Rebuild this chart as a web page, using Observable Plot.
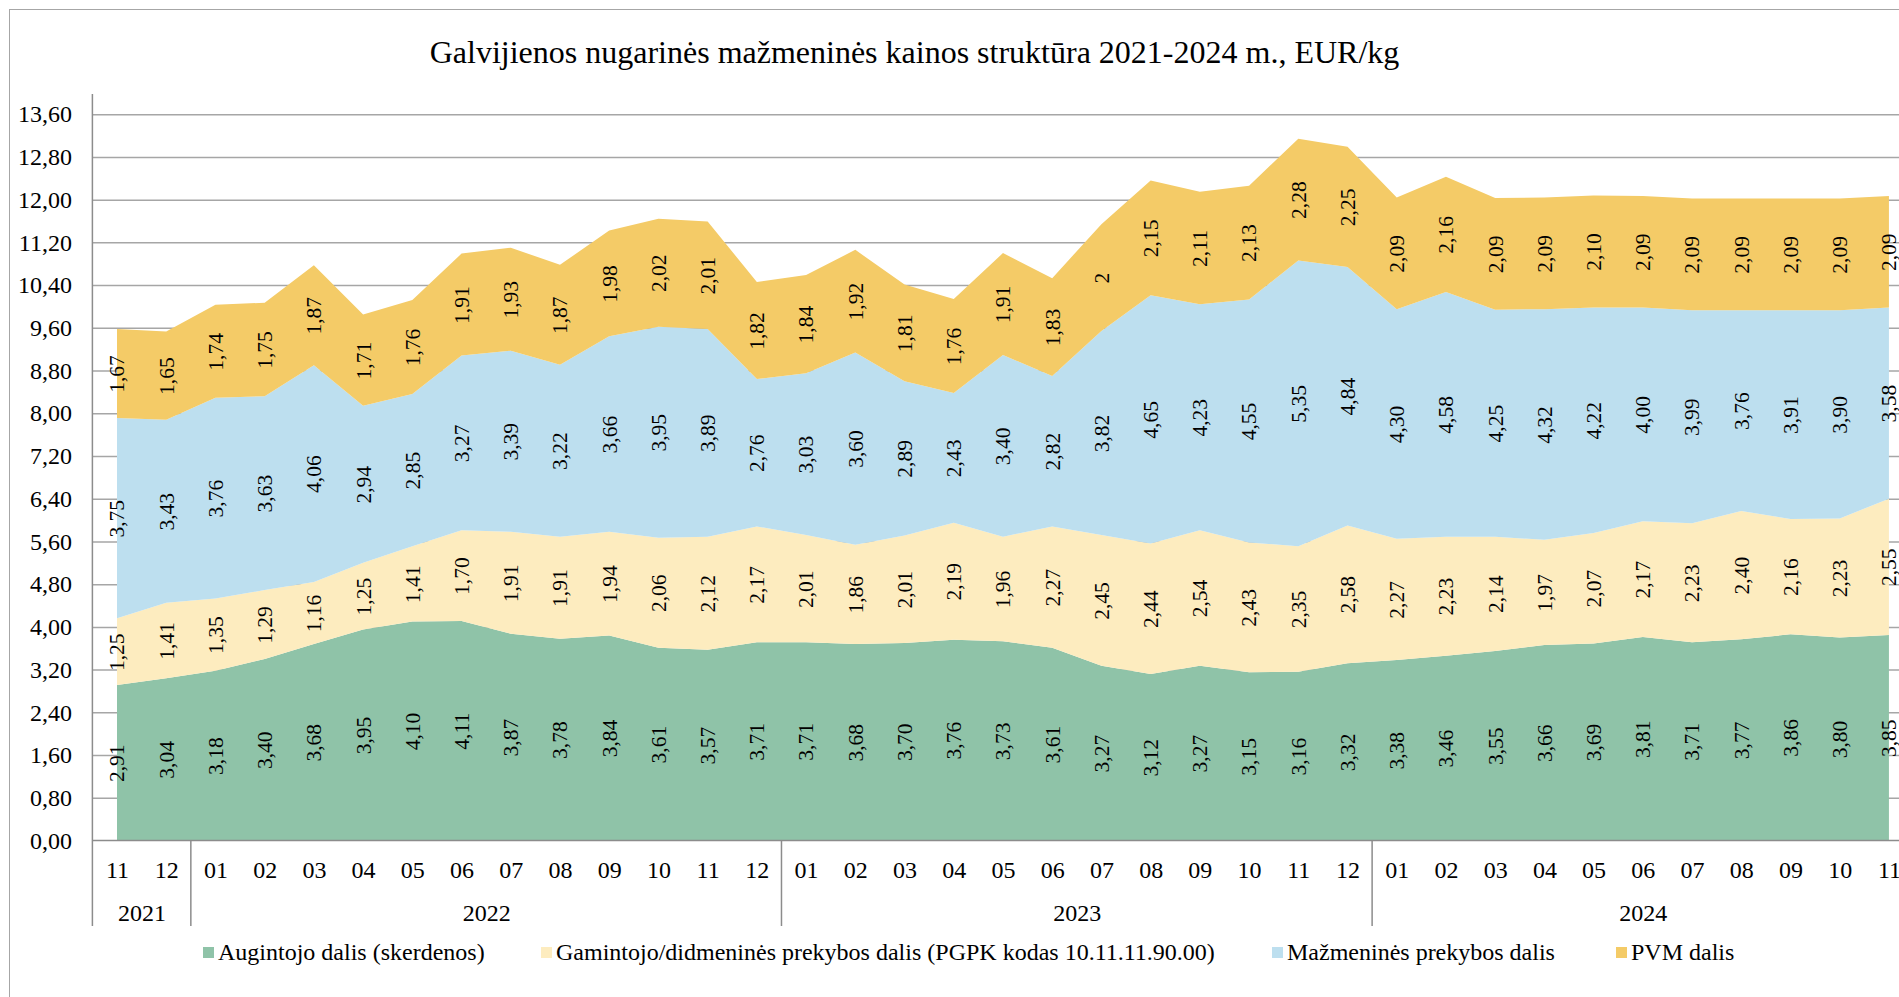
<!DOCTYPE html>
<html>
<head>
<meta charset="utf-8">
<script src="https://cdn.jsdelivr.net/npm/d3@7"></script>
<script src="https://cdn.jsdelivr.net/npm/@observablehq/plot@0.6"></script>
<style>
html, body { margin: 0; padding: 0; background: #fff; overflow: hidden; }
#wrap { position: relative; width: 1899px; height: 997px; overflow: hidden; background: #fff;
        font-family: "Liberation Serif", "Times New Roman", serif; color: #000; }
#frame { position: absolute; left: 9px; top: 8.5px; width: 2100px; height: 1200px;
         border: 1.5px solid #a6a6a6; box-sizing: border-box; }
#title { position: absolute; left: 0; top: 36px; width: 1829px; text-align: center;
         font-size: 32px; line-height: 32px; white-space: nowrap; }
#chart { position: absolute; left: 0; top: 88px; }
#legend { position: absolute; left: 0; top: 930px; width: 1899px; height: 67px; }
.item { position: absolute; top: 10px; height: 24px; display: flex; align-items: center;
        font-size: 24px; line-height: 24px; white-space: nowrap; }
.sw { width: 11px; height: 11px; margin-right: 4px; flex: none; }
</style>
</head>
<body>
<div id="wrap">
  <div id="frame"></div>
  <div id="title"></div>
  <div id="chart"></div>
  <div id="legend"></div>
</div>
<script>
// ---------- DATA ----------
const titleText = "Galvijienos nugarinės mažmeninės kainos struktūra 2021-2024 m., EUR/kg";

const periods = [
  "2021-11","2021-12",
  "2022-01","2022-02","2022-03","2022-04","2022-05","2022-06","2022-07","2022-08","2022-09","2022-10","2022-11","2022-12",
  "2023-01","2023-02","2023-03","2023-04","2023-05","2023-06","2023-07","2023-08","2023-09","2023-10","2023-11","2023-12",
  "2024-01","2024-02","2024-03","2024-04","2024-05","2024-06","2024-07","2024-08","2024-09","2024-10","2024-11"
];

const seriesNames = [
  "Augintojo dalis (skerdenos)",
  "Gamintojo/didmeninės prekybos dalis (PGPK kodas 10.11.11.90.00)",
  "Mažmeninės prekybos dalis",
  "PVM dalis"
];

const seriesColors = ["#8fc3a8", "#fdecbf", "#bddfef", "#f4cb67"];

const augintojo = [2.91,3.04, 3.18,3.40,3.68,3.95,4.10,4.11,3.87,3.78,3.84,3.61,3.57,3.71,
  3.71,3.68,3.70,3.76,3.73,3.61,3.27,3.12,3.27,3.15,3.16,3.32,
  3.38,3.46,3.55,3.66,3.69,3.81,3.71,3.77,3.86,3.80,3.85];

const gamintojo = [1.25,1.41, 1.35,1.29,1.16,1.25,1.41,1.70,1.91,1.91,1.94,2.06,2.12,2.17,
  2.01,1.86,2.01,2.19,1.96,2.27,2.45,2.44,2.54,2.43,2.35,2.58,
  2.27,2.23,2.14,1.97,2.07,2.17,2.23,2.40,2.16,2.23,2.55];

const mazmenine = [3.75,3.43, 3.76,3.63,4.06,2.94,2.85,3.27,3.39,3.22,3.66,3.95,3.89,2.76,
  3.03,3.60,2.89,2.43,3.40,2.82,3.82,4.65,4.23,4.55,5.35,4.84,
  4.30,4.58,4.25,4.32,4.22,4.00,3.99,3.76,3.91,3.90,3.58];

const pvm = [1.67,1.65, 1.74,1.75,1.87,1.71,1.76,1.91,1.93,1.87,1.98,2.02,2.01,1.82,
  1.84,1.92,1.81,1.76,1.91,1.83,2,2.15,2.11,2.13,2.28,2.25,
  2.09,2.16,2.09,2.09,2.10,2.09,2.09,2.09,2.09,2.09,2.09];

// labels that the source prints without decimals (series, period)
const plainLabels = [["PVM dalis", "2023-07"]];

const yTicks = [0,0.8,1.6,2.4,3.2,4.0,4.8,5.6,6.4,7.2,8.0,8.8,9.6,10.4,11.2,12.0,12.8,13.6];

// ---------- BUILD ----------
const seriesValues = [augintojo, gamintojo, mazmenine, pvm];
const comma = v => v.toFixed(2).replace(".", ",");
const isPlain = (s, p) => plainLabels.some(([ps, pp]) => ps === s && pp === p);

const rows = [];
periods.forEach((p, i) => {
  let acc = 0;
  seriesNames.forEach((s, k) => {
    const v = seriesValues[k][i];
    rows.push({i, series: s, value: v, lo: acc, hi: acc + v, mid: acc + v / 2,
               label: isPlain(s, p) ? String(v) : comma(v)});
    acc += v;
  });
});

const yearGroups = d3.groups(periods.map((p, i) => ({year: p.slice(0, 4), i})), d => d.year)
  .map(([year, arr]) => ({year, first: arr[0].i, last: arr[arr.length - 1].i}));

const axisColor = "#8c8c8c";
const gridColor = "#a6a6a6";
const FONT = '"Liberation Serif", "Times New Roman", serif';

function axisLines(index, scales, values, dims) {
  const g = d3.create("svg:g").attr("stroke", axisColor).attr("stroke-width", 1.5).attr("fill", "none");
  const x0 = scales.x(-0.5);
  const y0 = scales.y(0);
  const bottom = dims.height - dims.marginBottom;
  g.append("line").attr("x1", x0).attr("x2", x0).attr("y1", dims.marginTop).attr("y2", bottom);
  g.append("line").attr("x1", x0).attr("x2", dims.width).attr("y1", y0).attr("y2", y0);
  for (const grp of yearGroups.slice(1)) {
    const xs = scales.x(grp.first - 0.5);
    g.append("line").attr("x1", xs).attr("x2", xs).attr("y1", y0).attr("y2", bottom);
  }
  return g.node();
}

const n = periods.length;
const chart = Plot.plot({
  width: 1899,
  height: 842,
  marginLeft: 92.4,
  marginRight: 0,
  marginTop: 6,
  marginBottom: 4,
  style: {fontFamily: FONT, fontSize: "24px", background: "transparent", color: "#000", overflow: "hidden"},
  x: {type: "linear", domain: [-0.5, n - 0.5], range: [92.4, 92.4 + n * 49.22], axis: null},
  y: {type: "linear", domain: [0, 13.6], range: [752.5, 26.2], axis: null},
  color: {domain: seriesNames, range: seriesColors},
  marks: [
    Plot.ruleY(yTicks.filter(v => v > 0), {stroke: gridColor, strokeWidth: 1.5}),
    Plot.areaY(rows, {x: "i", y1: "lo", y2: "hi", z: "series", fill: "series", curve: "linear"}),
    axisLines,
    Plot.axisY(yTicks, {anchor: "left", tickSize: 0, tickPadding: 21, tickFormat: comma,
                        fontSize: 24, fontFamily: FONT, fill: "#000", label: null}),
    Plot.text(rows, {x: "i", y: "mid", text: "label", rotate: -90,
                     fontSize: 21.5, fontFamily: FONT, fill: "#000"}),
    Plot.text(periods, {x: (d, i) => i, y: () => 0, text: d => d.slice(5), dy: 29.5,
                        fontSize: 24, fontFamily: FONT, fill: "#000"}),
    Plot.text(yearGroups, {x: d => (d.first + d.last) / 2, y: () => 0, text: "year", dy: 72.5,
                           fontSize: 24, fontFamily: FONT, fill: "#000"})
  ]
});
document.getElementById("chart").appendChild(chart);

document.getElementById("title").textContent = titleText;

const legendStarts = [218, 556, 1287, 1631];
const legend = document.getElementById("legend");
seriesNames.forEach((s, k) => {
  const item = document.createElement("div");
  item.className = "item";
  item.style.left = (legendStarts[k] - 15) + "px";
  const sw = document.createElement("span");
  sw.className = "sw";
  sw.style.background = seriesColors[k];
  const tx = document.createElement("span");
  tx.textContent = s;
  item.appendChild(sw);
  item.appendChild(tx);
  legend.appendChild(item);
});
</script>
</body>
</html>
